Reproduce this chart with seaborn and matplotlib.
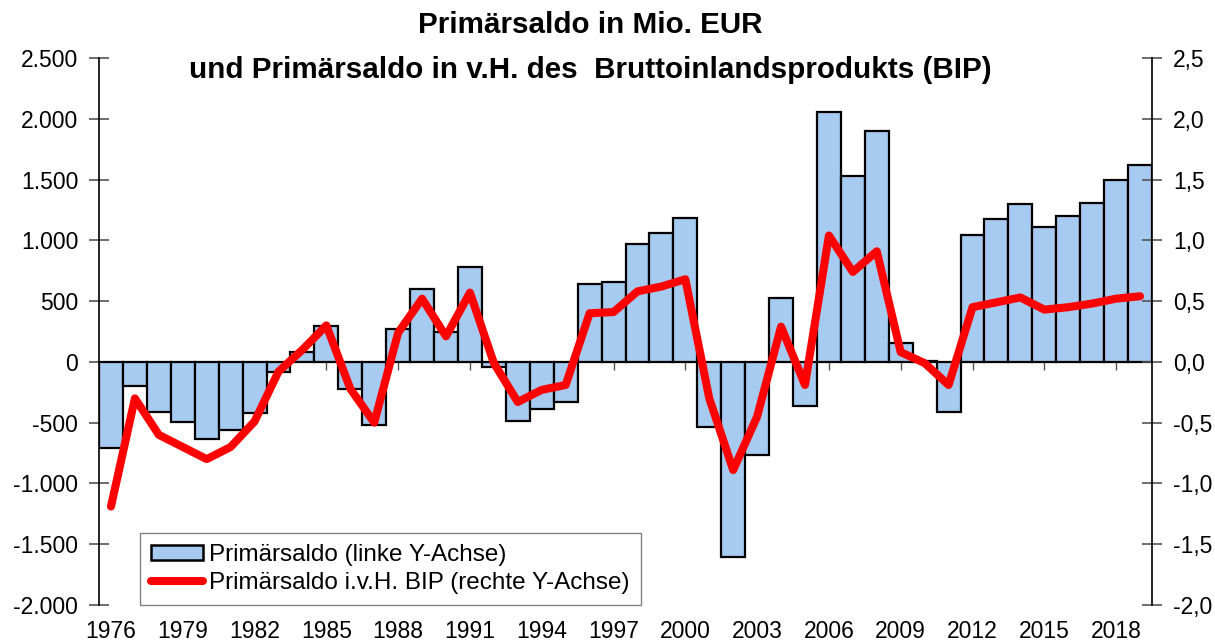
import matplotlib

matplotlib.use("Agg")

import matplotlib.pyplot as plt
import numpy as np
import pandas as pd
import seaborn as sns
from matplotlib.lines import Line2D
from matplotlib.patches import Patch
from matplotlib.ticker import FuncFormatter

YEARS = list(range(1976, 2020))
SALDO_MIO = [
    -710, -200, -412, -494, -634, -557, -420, -87, 82, 298,
    -227, -521, 267, 599, 247, 783, -41, -489, -384, -334,
    637, 654, 967, 1058, 1186, -535, -1606, -769, 522, -362,
    2057, 1527, 1900, 155, 5, -412, 1044, 1173, 1302, 1112,
    1203, 1310, 1494, 1618,
]
SALDO_BIP = [
    -1.19, -0.30, -0.60, -0.70, -0.80, -0.70, -0.49, -0.08, 0.10, 0.30,
    -0.22, -0.50, 0.24, 0.52, 0.21, 0.57, -0.01, -0.33, -0.23, -0.19,
    0.40, 0.41, 0.58, 0.62, 0.68, -0.30, -0.89, -0.45, 0.29, -0.19,
    1.04, 0.74, 0.91, 0.08, -0.01, -0.19, 0.45, 0.49, 0.53, 0.43,
    0.45, 0.48, 0.52, 0.54,
]
LEFT_TICKS = [-2000, -1500, -1000, -500, 0, 500, 1000, 1500, 2000, 2500]
RIGHT_TICKS = [-2.0, -1.5, -1.0, -0.5, 0.0, 0.5, 1.0, 1.5, 2.0, 2.5]
LABEL_BARS = "Primärsaldo (linke Y-Achse)"
LABEL_LINE = "Primärsaldo i.v.H. BIP (rechte Y-Achse)"
TITLE_1 = "Primärsaldo in Mio. EUR"
TITLE_2 = "und Primärsaldo in v.H. des  Bruttoinlandsprodukts (BIP)"

BAR_COLOR = "#A6CAF0"
LINE_COLOR = "#FF0000"
TICK_COLOR = "#555555"

sns.set_theme(style="white")
plt.rcParams["font.family"] = ["Liberation Sans", "DejaVu Sans"]
plt.rcParams["text.color"] = "black"

data = pd.DataFrame({"year": [str(y) for y in YEARS], "saldo": SALDO_MIO, "bip": SALDO_BIP})
data["pos"] = np.arange(len(data))

fig = plt.figure(figsize=(12.15, 6.42), dpi=100)
ax = fig.add_axes([99 / 1215, 37 / 642, (1152 - 99) / 1215, (605 - 58) / 642])

sns.barplot(data=data, x="year", y="saldo", color=BAR_COLOR, saturation=1,
            width=1.0, edgecolor="black", linewidth=1.6, ax=ax)
ax.set_xlim(-0.5, len(data) - 0.5)
ax.set_ylim(-2000, 2500)
ax.set_yticks(LEFT_TICKS)
ax.yaxis.set_major_formatter(FuncFormatter(lambda v, _: f"{v:,.0f}".replace(",", ".")))
ax.set_xlabel("")
ax.set_ylabel("")

for side in ("top", "right"):
    ax.spines[side].set_visible(False)
ax.spines["left"].set_color("black")
ax.spines["left"].set_linewidth(1.2)
ax.spines["bottom"].set_position(("data", 0))
ax.spines["bottom"].set_color("black")
ax.spines["bottom"].set_linewidth(1.2)

tick_pos = data["pos"][::3].tolist()
tick_lab = data["year"][::3].tolist()
ax.set_xticks(tick_pos)
ax.tick_params(axis="x", labelbottom=False, bottom=True, length=6, width=1, color=TICK_COLOR, direction="out")
ax.tick_params(axis="y", left=True, length=14, width=1.2, color=TICK_COLOR, direction="inout",
               labelsize=16.5, pad=8, labelcolor="black")

secax = ax.secondary_xaxis("bottom")
secax.set_xticks(tick_pos, labels=tick_lab)
secax.tick_params(axis="x", length=0, labelsize=16.5, pad=11, labelcolor="black")
secax.spines["bottom"].set_visible(False)

ax2 = ax.twinx()
sns.lineplot(data=data, x="pos", y="bip", color=LINE_COLOR, linewidth=5.8, ax=ax2,
             solid_joinstyle="round", solid_capstyle="round")
ax2.set_ylim(-2.0, 2.5)
ax2.set_yticks(RIGHT_TICKS)
ax2.yaxis.set_major_formatter(FuncFormatter(lambda v, _: f"{v:.1f}".replace(".", ",")))
ax2.set_xlabel("")
ax2.set_ylabel("")
for side in ("top", "bottom", "left"):
    ax2.spines[side].set_visible(False)
ax2.spines["right"].set_color("black")
ax2.spines["right"].set_linewidth(1.2)
ax2.tick_params(axis="y", right=True, length=14, width=1.2, color=TICK_COLOR, direction="inout",
                labelsize=16.5, pad=8, labelcolor="black")

handles = [
    Patch(facecolor=BAR_COLOR, edgecolor="black", linewidth=1.8),
    Line2D([], [], color=LINE_COLOR, linewidth=5.8, solid_capstyle="round"),
]
leg = ax2.legend(handles, [LABEL_BARS, LABEL_LINE], loc="lower left", bbox_to_anchor=(0.039, 0.0),
                 borderaxespad=0, fontsize=17.5, frameon=True, fancybox=False, framealpha=1,
                 edgecolor="#808080", handlelength=2.15, handleheight=0.55, handletextpad=0.25,
                 labelspacing=0.25, borderpad=0.45)
leg.get_frame().set_linewidth(1.0)

fig.text(590 / 1215, 1 - 33 / 642, TITLE_1, ha="center", va="baseline", fontsize=21.3,
         fontweight="bold")
fig.text(590 / 1215, 1 - 78 / 642, TITLE_2, ha="center", va="baseline", fontsize=21.3,
         fontweight="bold")

fig.savefig("out.png", dpi=100)
